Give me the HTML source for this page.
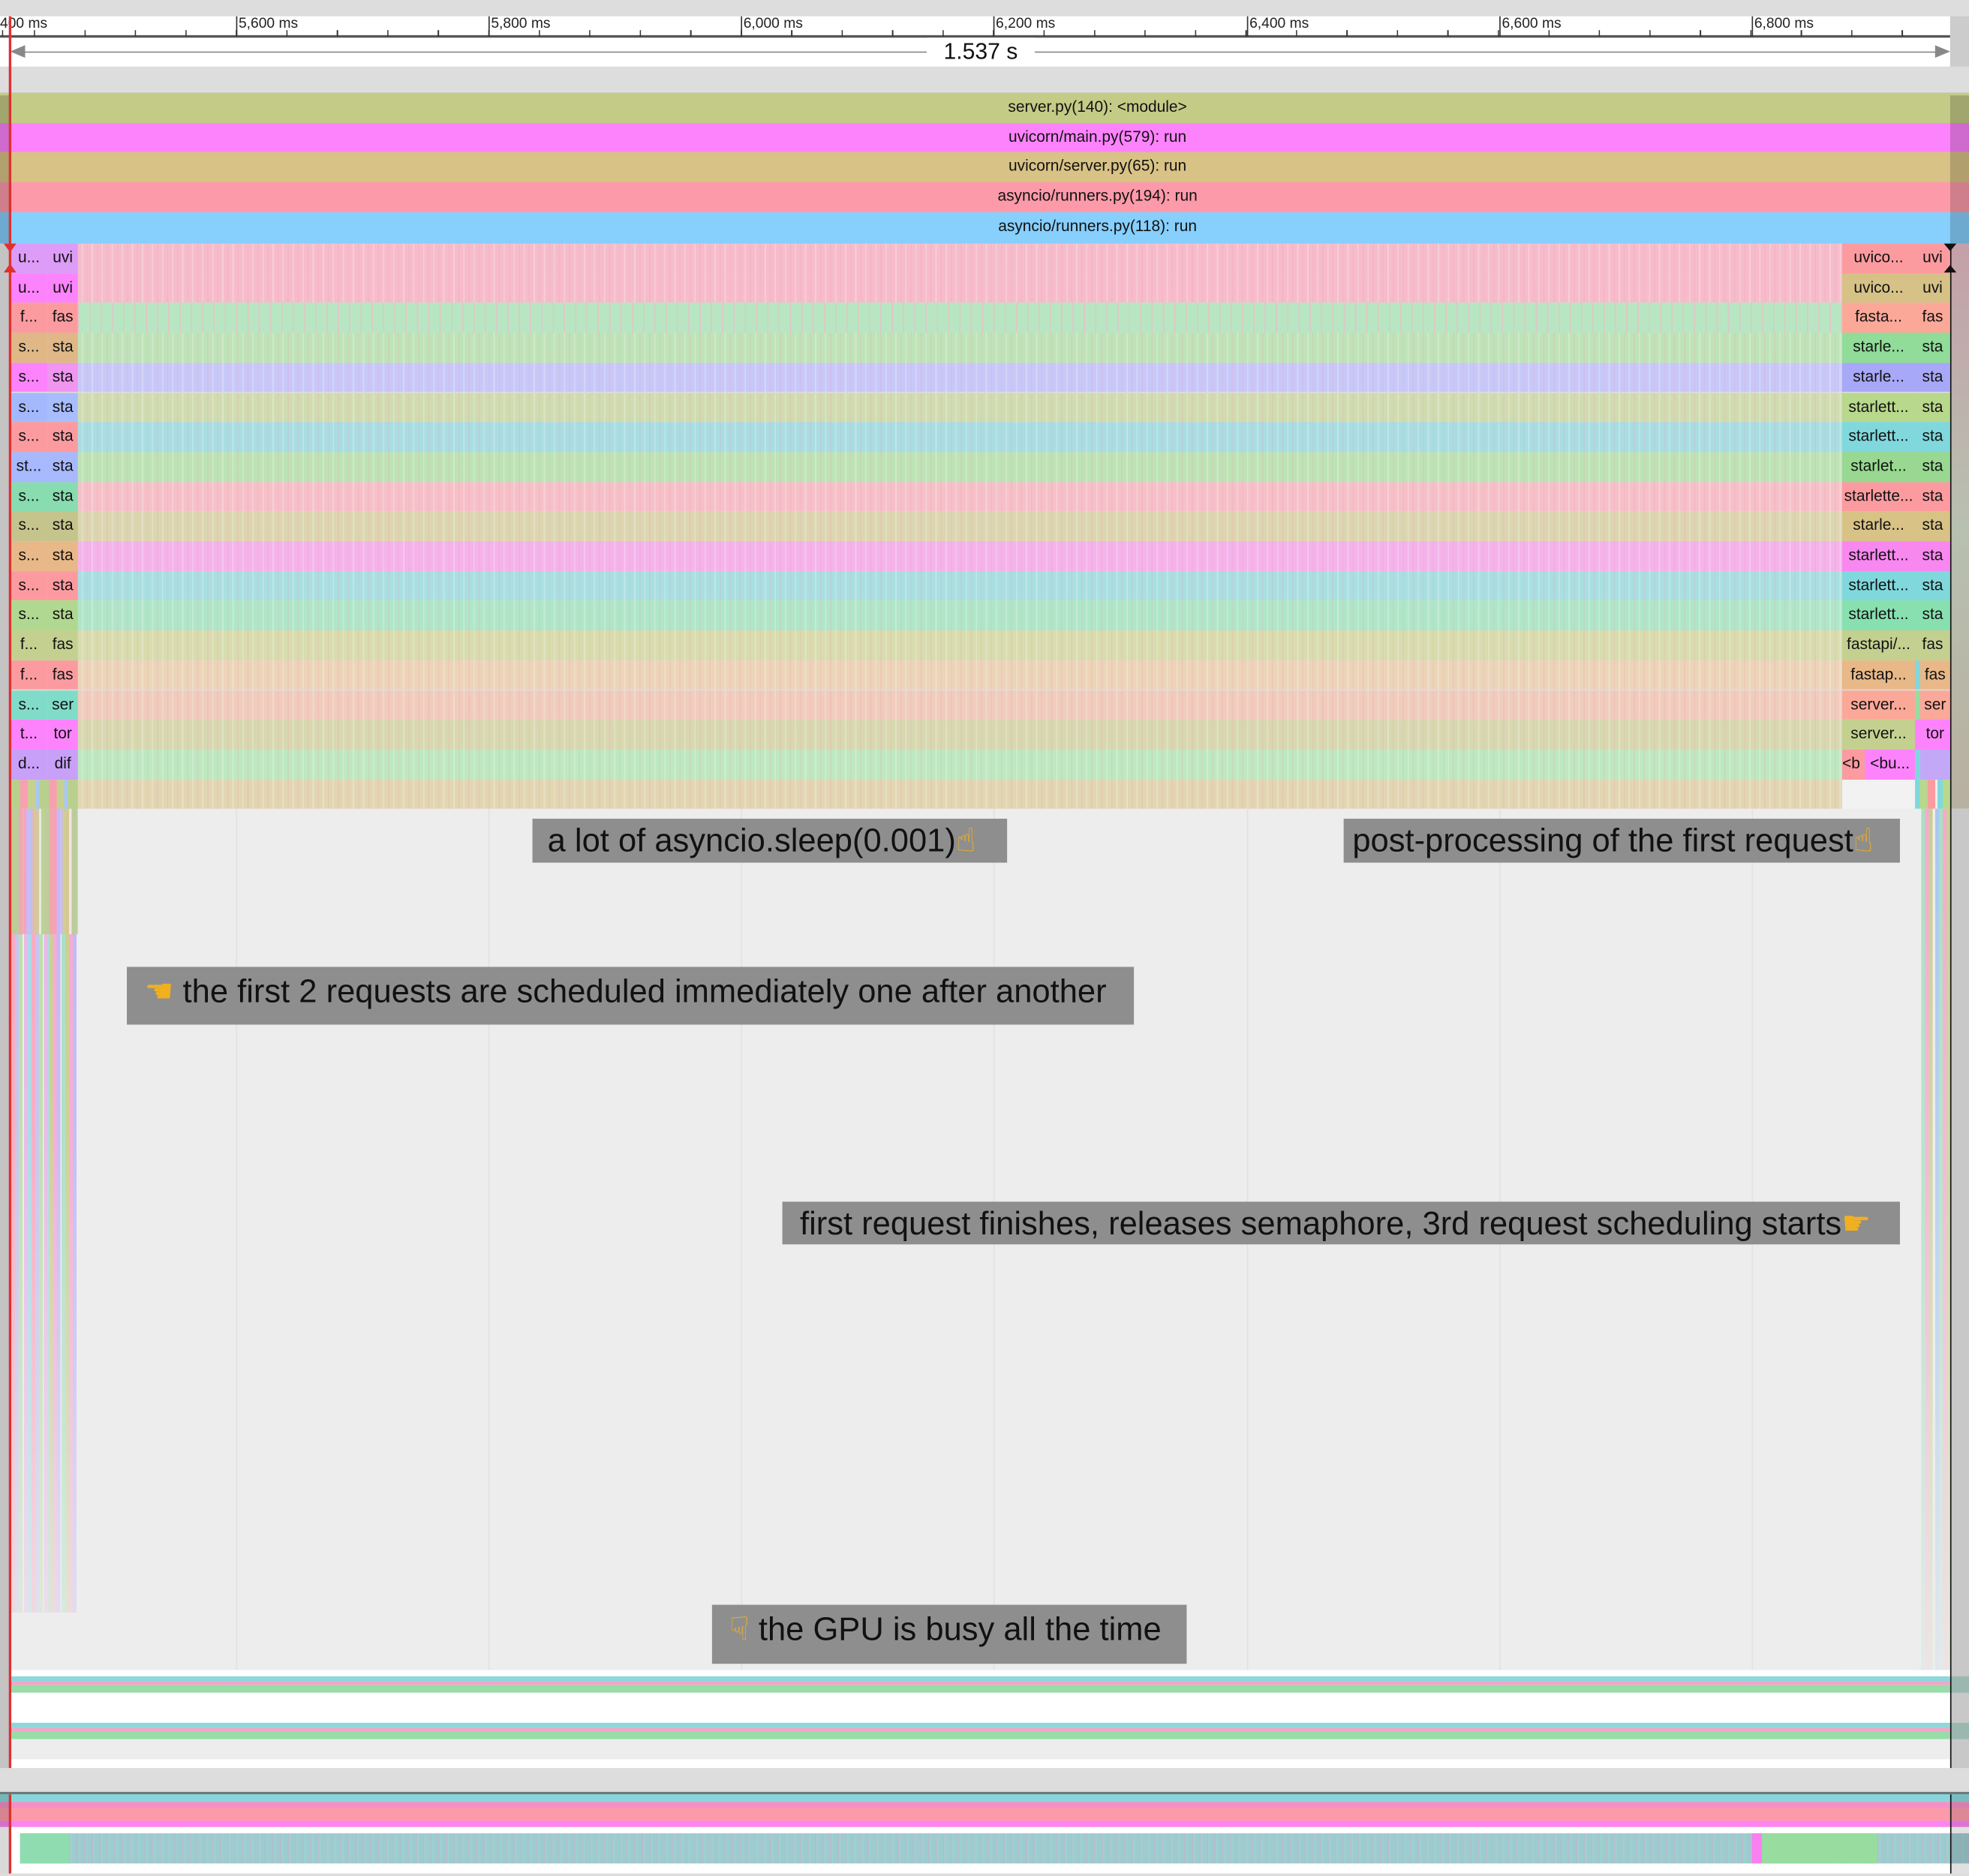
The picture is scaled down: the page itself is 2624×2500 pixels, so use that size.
<!DOCTYPE html>
<html><head><meta charset="utf-8"><style>
html,body{margin:0;padding:0;width:2624px;height:2500px;overflow:hidden;background:#ddd}
#s{position:absolute;left:0;top:0;width:1568px;height:1494px;transform:scale(1.673469,1.673360);transform-origin:0 0;font-family:"Liberation Sans",Arial,sans-serif;background:#ddd;overflow:hidden}
.a{position:absolute}
.r{position:absolute;height:23.7px;line-height:23.7px;font-size:12.5px;color:#111;text-align:center;white-space:nowrap;overflow:hidden}
.top{padding-left:180px;box-sizing:border-box}
.tk{position:absolute;width:1px;background:#333}
.tl{position:absolute;top:13px;font-size:11.5px;color:#222}
.gl{position:absolute;top:644px;height:764px;width:1px;background:#e2e2e2}
.ann{position:absolute;background:#8e8e8e;color:#111;font-size:26px;white-space:nowrap;box-sizing:border-box}
.em{color:#f0b020;font-family:"DejaVu Sans",sans-serif}
.st{background-image:repeating-linear-gradient(90deg,rgba(255,255,255,0) 0 3px,rgba(255,255,255,.25) 3px 4px,rgba(0,0,0,0) 4px 7px,rgba(240,150,180,.18) 7px 8px)}
</style></head><body><div id="s">
<div class="a" style="left:0;top:13px;width:1553px;height:40px;background:#fff"></div>
<div class="a" style="left:0;top:28px;width:1553px;height:2px;background:#555"></div>
<div class="tk" style="left:188px;top:13px;height:16px"></div>
<div class="tk" style="left:389px;top:13px;height:16px"></div>
<div class="tk" style="left:590px;top:13px;height:16px"></div>
<div class="tk" style="left:791px;top:13px;height:16px"></div>
<div class="tk" style="left:993px;top:13px;height:16px"></div>
<div class="tk" style="left:1194px;top:13px;height:16px"></div>
<div class="tk" style="left:1395px;top:13px;height:16px"></div>
<div class="a" style="left:0;top:24px;width:1553px;height:5px;background-image:repeating-linear-gradient(90deg,#333 0 1px,transparent 1px 40.2px);background-position:27px 0"></div>
<div class="tl" style="left:0">400 ms</div>
<div class="tl" style="left:190px">5,600 ms</div>
<div class="tl" style="left:391px">5,800 ms</div>
<div class="tl" style="left:592px">6,000 ms</div>
<div class="tl" style="left:793px">6,200 ms</div>
<div class="tl" style="left:995px">6,400 ms</div>
<div class="tl" style="left:1196px">6,600 ms</div>
<div class="tl" style="left:1397px">6,800 ms</div>
<div class="a" style="left:12px;top:40.5px;width:1538px;height:1.5px;background:#888"></div>
<div class="a" style="left:8px;top:36px;width:0;height:0;border-top:5px solid transparent;border-bottom:5px solid transparent;border-right:12px solid #888"></div>
<div class="a" style="left:1541px;top:36px;width:0;height:0;border-top:5px solid transparent;border-bottom:5px solid transparent;border-left:12px solid #888"></div>
<div class="a" style="left:738px;top:30px;width:86px;height:22px;background:#fff;font-size:18px;text-align:center;line-height:22px;color:#111">1.537 s</div>
<div class="a" style="left:1553px;top:13px;width:15px;height:40px;background:#ccc"></div>
<div class="a" style="left:0;top:74px;width:1568px;height:2px;background:#777"></div>
<div class="r top" style="left:0;top:74px;width:1568px;background:#c4cb86">server.py(140): &lt;module&gt;</div>
<div class="r top" style="left:0;top:97.7px;width:1568px;background:#fd83fd">uvicorn/main.py(579): run</div>
<div class="r top" style="left:0;top:121.4px;width:1568px;background:#d8c285">uvicorn/server.py(65): run</div>
<div class="r top" style="left:0;top:145.1px;width:1568px;background:#fd9aaa">asyncio/runners.py(194): run</div>
<div class="r top" style="left:0;top:168.8px;width:1568px;height:25.2px;background:#87cffd">asyncio/runners.py(118): run</div>
<div class="a" style="left:8px;top:644px;width:1545px;height:686px;background:#ededed"></div>
<div class="gl" style="left:188px"></div><div class="gl" style="left:389px"></div><div class="gl" style="left:590px"></div><div class="gl" style="left:791px"></div><div class="gl" style="left:993px"></div><div class="gl" style="left:1194px"></div><div class="gl" style="left:1395px"></div>
<div class="a" style="left:9px;top:644px;width:30px;height:640px;background:linear-gradient(180deg,rgba(255,255,255,0) 0,rgba(237,237,237,.1) 40%,rgba(237,237,237,.7) 100%),repeating-linear-gradient(90deg,#f8a8c0 0 3px,#c8c0f0 3px 6px,#b8e0a8 6px 9px,#ededed 9px 10px,#e8b8e8 10px 13px,#a8d8e8 13px 16px)"></div>
<div class="a" style="left:39px;top:644px;width:22px;height:640px;background:linear-gradient(180deg,rgba(255,255,255,0) 0,rgba(237,237,237,.1) 40%,rgba(237,237,237,.7) 100%),repeating-linear-gradient(90deg,#c8d090 0 3px,#f8a8d0 3px 6px,#c0b8f8 6px 9px,#ededed 9px 10px,#a8e0c0 10px 13px)"></div>
<div class="a" style="left:9px;top:644px;width:53px;height:100px;background:repeating-linear-gradient(90deg,#b8d08c 0 6px,#f8a0b0 6px 12px,#c8b8f8 12px 17px,#d8c890 17px 22px,#ededed 22px 24px);opacity:.85"></div>
<div class="a" style="left:1530px;top:644px;width:23px;height:690px;background:linear-gradient(180deg,rgba(255,255,255,0) 0,rgba(237,237,237,.25) 40%,rgba(237,237,237,.85) 100%),repeating-linear-gradient(90deg,#a8e0c0 0 3px,#f8a8d0 3px 6px,#c8d090 6px 9px,#ededed 9px 11px,#a8c8f0 11px 14px)"></div>
<div class="a" style="left:1467px;top:644px;width:58px;height:690px;background:#ededed"></div>
<div class="a" style="left:8px;top:1330px;width:1545px;height:5px;background:#fff"></div>
<div class="a" style="left:0;top:1335px;width:1553px;height:4px;background:#8ed8dc"></div>
<div class="a" style="left:0;top:1339px;width:1553px;height:3px;background:#f0a8c8"></div>
<div class="a" style="left:0;top:1342px;width:1553px;height:6px;background:#98dca8"></div>
<div class="a" style="left:8px;top:1348px;width:1545px;height:24px;background:#fff"></div>
<div class="a" style="left:0;top:1372px;width:1553px;height:4px;background:#8ed8dc"></div>
<div class="a" style="left:0;top:1376px;width:1553px;height:3px;background:#f0a8c8"></div>
<div class="a" style="left:0;top:1379px;width:1553px;height:6px;background:#98dca8"></div>
<div class="a" style="left:8px;top:1385px;width:1545px;height:16px;background:#ededed"></div>
<div class="a" style="left:8px;top:1401px;width:1545px;height:7px;background:#fff"></div>
<div class="a" style="left:0;top:1427px;width:1568px;height:2px;background:#6a7a7a"></div>
<div class="a" style="left:0;top:1429px;width:1568px;height:6px;background:#88d6dc"></div>
<div class="a" style="left:0;top:1435px;width:1568px;height:5px;background:#f690c4"></div>
<div class="a" style="left:0;top:1440px;width:1568px;height:10px;background:#fd9aaa"></div>
<div class="a" style="left:0;top:1450px;width:1568px;height:5px;background:#fd83f0"></div>
<div class="a" style="left:0;top:1455px;width:1568px;height:37px;background:#fff"></div>
<div class="a" style="left:16px;top:1460px;width:1552px;height:24px;background:#9ccbd0;background-image:repeating-linear-gradient(90deg,rgba(255,255,255,0) 0 3px,rgba(230,160,200,.35) 3px 4px,rgba(160,220,200,.3) 4px 6px)"></div>
<div class="a" style="left:16px;top:1460px;width:39px;height:24px;background:#8edcb0"></div>
<div class="a" style="left:1395px;top:1460px;width:8px;height:24px;background:#f880f0"></div>
<div class="a" style="left:1403px;top:1460px;width:92px;height:24px;background:#98dca0"></div>
<div class="a" style="left:0;top:1429px;width:8px;height:63px;background:rgba(0,0,0,.15)"></div>
<div class="a" style="left:1553px;top:1429px;width:15px;height:63px;background:rgba(0,0,0,.12)"></div>
<div class="ann" style="left:424px;top:652px;width:378px;height:35px;padding-left:12px;line-height:35px">a lot of asyncio.sleep(0.001)<span class="em">☝</span></div>
<div class="ann" style="left:1070px;top:652px;width:443px;height:35px;padding-left:7px;line-height:35px">post-processing of the first request<span class="em">☝</span></div>
<div class="ann" style="left:101px;top:770px;width:802px;height:46px;padding-left:14px;line-height:38px"><span class="em">☚</span> the first 2 requests are scheduled immediately one after another</div>
<div class="ann" style="left:623px;top:957px;width:890px;height:34px;padding-left:14px;line-height:34px">first request finishes, releases semaphore, 3rd request scheduling starts<span class="em">☛</span></div>
<div class="ann" style="left:567px;top:1278px;width:378px;height:47px;padding-left:14px;line-height:38px"><span class="em">☟</span> the GPU is busy all the time</div>
<div class="r st" style="left:62px;top:194.0px;width:1491px;background-color:#f6bccb"></div>
<div class="r st" style="left:62px;top:217.7px;width:1491px;background-color:#f6bccb"></div>
<div class="r st" style="left:62px;top:241.4px;width:1491px;background-color:#b8e6c2;background-image:repeating-linear-gradient(90deg,rgba(246,180,200,.6) 0 1px,transparent 1px 9px)"></div>
<div class="r st" style="left:62px;top:265.1px;width:1491px;background-color:#bfe3b8"></div>
<div class="r st" style="left:62px;top:288.8px;width:1491px;background-color:#c8c8f8"></div>
<div class="r st" style="left:62px;top:312.5px;width:1491px;background-color:#d0dcb0"></div>
<div class="r st" style="left:62px;top:336.2px;width:1491px;background-color:#a9dde2"></div>
<div class="r st" style="left:62px;top:359.9px;width:1491px;background-color:#bde3b5"></div>
<div class="r st" style="left:62px;top:383.6px;width:1491px;background-color:#f6c0c8"></div>
<div class="r st" style="left:62px;top:407.3px;width:1491px;background-color:#dcd6b0"></div>
<div class="r st" style="left:62px;top:431.0px;width:1491px;background-color:#f4b3ea"></div>
<div class="r st" style="left:62px;top:454.7px;width:1491px;background-color:#a9dfe0"></div>
<div class="r st" style="left:62px;top:478.4px;width:1491px;background-color:#b0e6c8"></div>
<div class="r st" style="left:62px;top:502.1px;width:1491px;background-color:#d8dcae"></div>
<div class="r st" style="left:62px;top:525.8px;width:1491px;background-color:#ecd4b8"></div>
<div class="r st" style="left:62px;top:549.5px;width:1491px;background-color:#f0ccbc"></div>
<div class="r st" style="left:62px;top:573.2px;width:1491px;background-color:#d8d8b0"></div>
<div class="r st" style="left:62px;top:596.9px;width:1491px;background-color:#bee8c0"></div>
<div class="r st" style="left:62px;top:620.6px;width:1405px;background-color:#e2d6b2"></div>
<div class="r" style="left:8px;top:194.0px;width:30px;background:#dc9cf8">u...</div><div class="r" style="left:38px;top:194.0px;width:24px;background:#dc9cf8">uvi</div>
<div class="r" style="left:8px;top:217.7px;width:30px;background:#fd83fd">u...</div><div class="r" style="left:38px;top:217.7px;width:24px;background:#fd83fd">uvi</div>
<div class="r" style="left:8px;top:241.4px;width:30px;background:#fb9ba0">f...</div><div class="r" style="left:38px;top:241.4px;width:24px;background:#fb9ba0">fas</div>
<div class="r" style="left:8px;top:265.1px;width:30px;background:#e0b888">s...</div><div class="r" style="left:38px;top:265.1px;width:24px;background:#e0b888">sta</div>
<div class="r" style="left:8px;top:288.8px;width:30px;background:#fd83fd">s...</div><div class="r" style="left:38px;top:288.8px;width:24px;background:#f095f0">sta</div>
<div class="r" style="left:8px;top:312.5px;width:30px;background:#a3b8fd">s...</div><div class="r" style="left:38px;top:312.5px;width:24px;background:#a8bdfd">sta</div>
<div class="r" style="left:8px;top:336.2px;width:30px;background:#fb9ba0">s...</div><div class="r" style="left:38px;top:336.2px;width:24px;background:#fb9ba0">sta</div>
<div class="r" style="left:8px;top:359.9px;width:30px;background:#a8b8fd">st...</div><div class="r" style="left:38px;top:359.9px;width:24px;background:#a8b8fd">sta</div>
<div class="r" style="left:8px;top:383.6px;width:30px;background:#88dcb0">s...</div><div class="r" style="left:38px;top:383.6px;width:24px;background:#88dcb0">sta</div>
<div class="r" style="left:8px;top:407.3px;width:30px;background:#c4c48c">s...</div><div class="r" style="left:38px;top:407.3px;width:24px;background:#c4c48c">sta</div>
<div class="r" style="left:8px;top:431.0px;width:30px;background:#e8b888">s...</div><div class="r" style="left:38px;top:431.0px;width:24px;background:#e8b888">sta</div>
<div class="r" style="left:8px;top:454.7px;width:30px;background:#fb9ba0">s...</div><div class="r" style="left:38px;top:454.7px;width:24px;background:#fb9ba0">sta</div>
<div class="r" style="left:8px;top:478.4px;width:30px;background:#b0d890">s...</div><div class="r" style="left:38px;top:478.4px;width:24px;background:#b0d890">sta</div>
<div class="r" style="left:8px;top:502.1px;width:30px;background:#c4d090">f...</div><div class="r" style="left:38px;top:502.1px;width:24px;background:#c4d090">fas</div>
<div class="r" style="left:8px;top:525.8px;width:30px;background:#fb9ba0">f...</div><div class="r" style="left:38px;top:525.8px;width:24px;background:#fb9ba0">fas</div>
<div class="r" style="left:8px;top:549.5px;width:30px;background:#80dcc8">s...</div><div class="r" style="left:38px;top:549.5px;width:24px;background:#80dcc8">ser</div>
<div class="r" style="left:8px;top:573.2px;width:30px;background:#fd83fd">t...</div><div class="r" style="left:38px;top:573.2px;width:24px;background:#fd83fd">tor</div>
<div class="r" style="left:8px;top:596.9px;width:30px;background:#c8a0f8">d...</div><div class="r" style="left:38px;top:596.9px;width:24px;background:#c8a0f8">dif</div>
<div class="r" style="left:8px;top:620.6px;width:54px;background:repeating-linear-gradient(90deg,#b8d08c 0 8px,#f8a0b0 8px 14px,#c8d090 14px 20px,#a8c8f0 20px 23px)"></div>
<div class="r" style="left:1467px;top:194.0px;width:58px;background:#fb9ba0">uvico...</div><div class="r" style="left:1525px;top:194.0px;width:28px;background:#fb9ba0">uvi</div>
<div class="r" style="left:1467px;top:217.7px;width:58px;background:#d6c286">uvico...</div><div class="r" style="left:1525px;top:217.7px;width:28px;background:#d6c286">uvi</div>
<div class="r" style="left:1467px;top:241.4px;width:58px;background:#fba898">fasta...</div><div class="r" style="left:1525px;top:241.4px;width:28px;background:#fba898">fas</div>
<div class="r" style="left:1467px;top:265.1px;width:58px;background:#90dc98">starle...</div><div class="r" style="left:1525px;top:265.1px;width:28px;background:#90dc98">sta</div>
<div class="r" style="left:1467px;top:288.8px;width:58px;background:#a8a8f8">starle...</div><div class="r" style="left:1525px;top:288.8px;width:28px;background:#a8a8f8">sta</div>
<div class="r" style="left:1467px;top:312.5px;width:58px;background:#b8d88c">starlett...</div><div class="r" style="left:1525px;top:312.5px;width:28px;background:#b8d88c">sta</div>
<div class="r" style="left:1467px;top:336.2px;width:58px;background:#80d8dc">starlett...</div><div class="r" style="left:1525px;top:336.2px;width:28px;background:#80d8dc">sta</div>
<div class="r" style="left:1467px;top:359.9px;width:58px;background:#98d890">starlet...</div><div class="r" style="left:1525px;top:359.9px;width:28px;background:#98d890">sta</div>
<div class="r" style="left:1467px;top:383.6px;width:58px;background:#fb9ba0">starlette...</div><div class="r" style="left:1525px;top:383.6px;width:28px;background:#fb9ba0">sta</div>
<div class="r" style="left:1467px;top:407.3px;width:58px;background:#d8c286">starle...</div><div class="r" style="left:1525px;top:407.3px;width:28px;background:#d8c286">sta</div>
<div class="r" style="left:1467px;top:431.0px;width:58px;background:#f888f0">starlett...</div><div class="r" style="left:1525px;top:431.0px;width:28px;background:#f888f0">sta</div>
<div class="r" style="left:1467px;top:454.7px;width:58px;background:#80d8dc">starlett...</div><div class="r" style="left:1525px;top:454.7px;width:28px;background:#80d8dc">sta</div>
<div class="r" style="left:1467px;top:478.4px;width:58px;background:#88e0b0">starlett...</div><div class="r" style="left:1525px;top:478.4px;width:28px;background:#88e0b0">sta</div>
<div class="r" style="left:1467px;top:502.1px;width:58px;background:#c4d090">fastapi/...</div><div class="r" style="left:1525px;top:502.1px;width:28px;background:#c4d090">fas</div>
<div class="r" style="left:1467px;top:525.8px;width:58px;background:#e8b888">fastap...</div><div class="r" style="left:1525px;top:525.8px;width:28px;background:#e8b888;border-left:4px solid #80d8dc;box-sizing:border-box">fas</div>
<div class="r" style="left:1467px;top:549.5px;width:58px;background:#fba898">server...</div><div class="r" style="left:1525px;top:549.5px;width:28px;background:#fba898;border-left:4px solid #98dca0;box-sizing:border-box">ser</div>
<div class="r" style="left:1467px;top:573.2px;width:58px;background:#c4d090">server...</div><div class="r" style="left:1525px;top:573.2px;width:28px;background:#fd83fd;border-left:4px solid #fd83fd;box-sizing:border-box">tor</div>
<div class="r" style="left:1467px;top:596.9px;width:18px;background:#fb9ba0;text-align:left">&lt;b</div><div class="r" style="left:1485px;top:596.9px;width:40px;background:#fd83fd">&lt;bu...</div><div class="r" style="left:1525px;top:596.9px;width:28px;background:#c4a8f8;border-left:4px solid #80d8dc;box-sizing:border-box"></div>
<div class="r" style="left:1467px;top:620.6px;width:58px;background:#f2f2f2"></div><div class="r" style="left:1525px;top:620.6px;width:28px;background:repeating-linear-gradient(90deg,#80d8dc 0 4px,#b8d88c 4px 10px,#fb9ba0 10px 16px,#ededed 16px 18px)"></div>
<div class="a" style="left:1553px;top:194px;width:15px;height:450px;background:linear-gradient(180deg,#c4a0a8,#b8c0b0 50%,#b8b0a0)"></div>
<div class="a" style="left:0;top:76px;width:8px;height:118px;background:rgba(0,0,0,.18)"></div>
<div class="a" style="left:1553px;top:76px;width:15px;height:118px;background:rgba(0,0,0,.18)"></div>
<div class="a" style="left:0;top:194px;width:8px;height:1214px;background:#c4c4c4"></div>
<div class="a" style="left:1553px;top:644px;width:15px;height:764px;background:#c8c8c8"></div>
<div class="a" style="left:1553px;top:1335px;width:15px;height:13px;background:#9ab8b0"></div>
<div class="a" style="left:1553px;top:1372px;width:15px;height:13px;background:#9ab8b0"></div>
<div class="a" style="left:7px;top:13px;width:1.5px;height:1395px;background:#e03030"></div>
<div class="a" style="left:3px;top:194px;width:0;height:0;border-left:5px solid transparent;border-right:5px solid transparent;border-top:7px solid #e03030"></div>
<div class="a" style="left:3px;top:210px;width:0;height:0;border-left:5px solid transparent;border-right:5px solid transparent;border-bottom:7px solid #e03030"></div>
<div class="a" style="left:1552.5px;top:194px;width:1.5px;height:1214px;background:#111"></div>
<div class="a" style="left:1548px;top:194px;width:0;height:0;border-left:5px solid transparent;border-right:5px solid transparent;border-top:6px solid #111"></div>
<div class="a" style="left:1548px;top:211px;width:0;height:0;border-left:5px solid transparent;border-right:5px solid transparent;border-bottom:6px solid #111"></div>
<div class="a" style="left:1552.5px;top:1429px;width:1.5px;height:63px;background:#111"></div>
<div class="a" style="left:7px;top:1429px;width:1.5px;height:63px;background:#e03030"></div>
</div></body></html>
